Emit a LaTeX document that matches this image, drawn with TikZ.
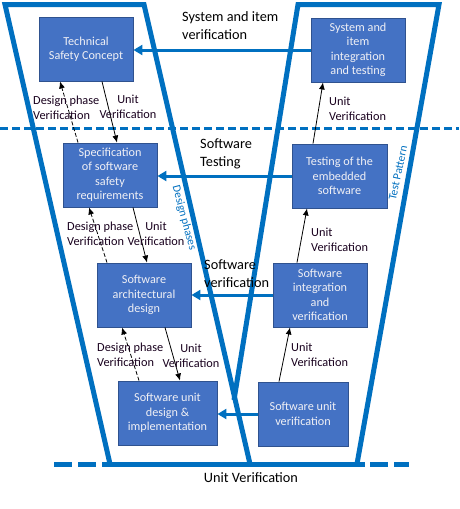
\documentclass[tikz,border=0pt]{standalone}
\usepackage{fontspec}
\setmainfont{Carlito}
\usetikzlibrary{arrows.meta,calc}
\definecolor{vblue}{RGB}{0,112,192}
\definecolor{boxfill}{RGB}{68,114,196}
\definecolor{boxline}{RGB}{47,82,143}
\definecolor{boxtext}{RGB}{240,240,245}
\definecolor{lbl}{RGB}{25,0,30}
\tikzset{
  vline/.style={draw=vblue,line width=5pt,line join=miter},
  stepbox/.style={draw=boxline,fill=boxfill,line width=0.9pt,text=boxtext,align=center,
    minimum height=64pt,inner sep=1pt,font=\fontsize{12.2}{14.5}\selectfont},
  harrow/.style={draw=vblue,line width=3pt,-{Triangle[length=9pt,width=10pt]}},
  uarrow/.style={draw=black,line width=0.8pt,-{Latex[length=7pt,width=6pt]}},
  darrow/.style={draw=black,line width=0.8pt,dash pattern=on 4pt off 2pt,-{Latex[length=7pt,width=6pt]}},
  lab/.style={text=lbl,inner sep=0pt,font=\fontsize{12.3}{14.8}\selectfont},
  sect/.style={text=black,inner sep=0pt,align=left,font=\fontsize{14.3}{18}\selectfont},
  rot/.style={text=vblue,inner sep=0pt,font=\fontsize{11.5}{13}\selectfont}
}
\begin{document}
\begin{tikzpicture}[x=1pt,y=-1pt]
\useasboundingbox[fill=white] (0,0) rectangle (459,509);
% V shape
\draw[vline] (110,464) -- (5,4.5) -- (144,4.5) -- (250,464);
\draw[vline] (234,400) -- (298,4.5) -- (439,4.5) -- (357,464);
% bottom line
\draw[vline,line cap=butt] (102,464) -- (365,464);
\draw[vline] (54,464) -- (72,464);
\draw[vline] (78,464) -- (96,464);
\draw[vline] (370,464) -- (388,464);
\draw[vline] (394,464) -- (409,464);
% dashed separator
\draw[draw=vblue,line width=3pt,dash pattern=on 8pt off 4pt] (0,128) -- (459,128);
% boxes
\node[stepbox,minimum width=94pt] (b1) at (86,49) {Technical\\Safety Concept};
\node[stepbox,minimum width=94pt] (b2) at (358,50) {System and\\item\\integration\\and testing};
\node[stepbox,minimum width=94pt] (b3) at (110,175) {Specification\\of software\\safety\\requirements};
\node[stepbox,minimum width=95pt] (b4) at (339.5,176) {Testing of the\\embedded\\software};
\node[stepbox,minimum width=94pt] (b5) at (144,295) {Software\\architectural\\design};
\node[stepbox,minimum width=94pt] (b6) at (320,295) {Software\\integration\\and\\verification};
\node[stepbox,minimum width=99pt] (b7) at (167.5,413) {Software unit\\design \&\\implementation};
\node[stepbox,minimum width=90pt] (b8) at (303,414) {Software unit\\verification};
% horizontal arrows
\draw[harrow] (b2.west) -- (b2.west -| b1.east);
\draw[harrow] (b4.west) -- (b4.west -| b3.east);
\draw[harrow] (b6.west) -- (b6.west -| b5.east);
\draw[harrow] (b8.west) -- (b8.west -| b7.east);
% vertical arrows
\draw[uarrow] ([xshift=16pt]b1.south) -- ([xshift=7pt]b3.north);
\draw[darrow] ([xshift=-32pt]b3.north) -- ([xshift=-26pt]b1.south);
\draw[uarrow] ([xshift=23pt]b3.south) -- ([xshift=3pt]b5.north);
\draw[darrow] ([xshift=-37pt]b5.north) -- ([xshift=-21pt]b3.south);
\draw[uarrow] ([xshift=21pt]b5.south) -- ([xshift=12.5pt]b7.north);
\draw[darrow] ([xshift=-28.5pt]b7.north) -- ([xshift=-22pt]b5.south);
\draw[uarrow] ([xshift=-24pt]b8.north) -- ([xshift=-30pt]b6.south);
\draw[uarrow] ([xshift=-23pt]b6.north) -- ([xshift=-32.5pt]b4.south);
\draw[uarrow] ([xshift=-26.5pt]b4.north) -- ([xshift=-35pt]b2.south);
% small labels
\node[lab,align=left,anchor=west] (d1) at (33,108) {Design phase\\Verification};
\node[lab,align=center] (u1) at (128,106.5) {Unit\\Verification};
\node[lab,align=left,anchor=west] (d2) at (67,233.5) {Design phase\\Verification};
\node[lab,align=center] (u2) at (156,233.5) {Unit\\Verification};
\node[lab,align=left,anchor=west] (d3) at (97,355) {Design phase\\Verification};
\node[lab,align=center] (u3) at (191,355.5) {Unit\\Verification};
\node[lab,align=left,anchor=west] (r1) at (329,108.5) {Unit\\Verification};
\node[lab,align=left,anchor=west] (r2) at (311,240) {Unit\\Verification};
\node[lab,align=left,anchor=west] (r3) at (291,354.5) {Unit\\Verification};
% section labels
\node[sect,anchor=west] (s1) at (182,26) {System and item\\verification};
\node[sect,anchor=west] (s2) at (200,153.5) {Software\\Testing};
\node[sect,anchor=west] (s3) at (204,274) {Software\\verification};
\node[sect] (s4) at (251,478) {Unit Verification};
% rotated labels
\node[rot,rotate=-75] (dp) at (184,218) {Design phases};
\node[rot,rotate=78] (tp) at (398,173) {Test Pattern};
\end{tikzpicture}
\end{document}
